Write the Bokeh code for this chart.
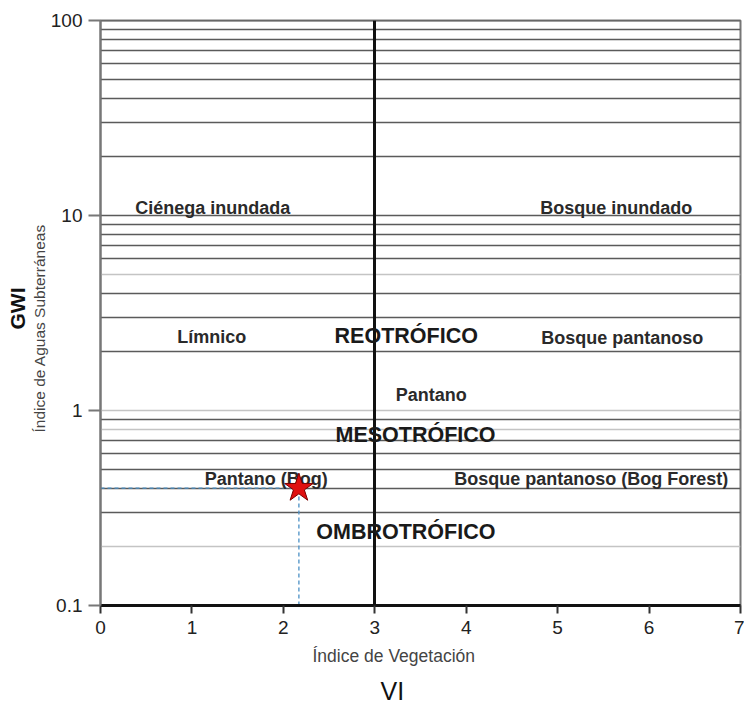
from bokeh.plotting import figure
from bokeh.models import FixedTicker, BasicTickFormatter, Title, Range1d
from bokeh.core.properties import value
from bokeh.embed import file_html
from bokeh.resources import INLINE

# gridline levels (GWI)
dark_levels = [0.3, 0.4, 0.5, 0.6, 0.7, 0.9, 2, 3, 4, 6, 7, 8, 9, 10,
               20, 30, 40, 50, 60, 70, 80, 90, 100]
light_levels = [0.2, 0.8, 1, 5]

# division between regimes (VI)
vi_split = [3]

# sample point
point_vi = [2.17]
point_gwi = [0.4]

# region labels
region_text = ["Ciénega inundada", "Bosque inundado", "Límnico", "Bosque pantanoso",
               "Pantano", "Pantano (Bog)", "Bosque pantanoso (Bog Forest)"]
region_x = [0.38, 4.81, 0.84, 4.82, 3.23, 1.14, 3.87]
region_y = [10.9, 10.9, 2.38, 2.36, 1.2, 0.447, 0.445]

class_text = ["REOTRÓFICO", "MESOTRÓFICO", "OMBROTRÓFICO"]
class_x = [2.56, 2.57, 2.36]
class_y = [2.42, 0.745, 0.237]

x_ticks = [0, 1, 2, 3, 4, 5, 6, 7]
y_ticks = [0.1, 1, 10, 100]

FONT = "Liberation Sans"

p = figure(width=744, height=706, output_backend="svg", toolbar_location=None,
           y_axis_type="log", x_range=Range1d(0, 7), y_range=Range1d(0.1, 100),
           min_border_left=100, min_border_right=4, min_border_top=20, min_border_bottom=100)

p.xgrid.visible = False
p.ygrid.visible = False
p.outline_line_color = "#777777"
p.outline_line_width = 2

p.hspan(y=light_levels, line_color="#c4c4c4", line_width=1.5)
p.hspan(y=dark_levels, line_color="#5a5a5a", line_width=1.6)
p.vspan(x=vi_split, line_color="#111111", line_width=3)

# dashed guide lines to the sample point
p.segment(x0=[0], y0=point_gwi, x1=point_vi, y1=point_gwi,
          line_color="#4a8fc4", line_width=1.3, line_dash="4 3")
p.segment(x0=point_vi, y0=[0.1], x1=point_vi, y1=point_gwi,
          line_color="#4a8fc4", line_width=1.3, line_dash="4 3")

p.text(x=region_x, y=region_y, text=region_text, text_font=value(FONT),
       text_font_size="18px", text_font_style="bold", text_color="#2a2a2a",
       text_baseline="middle", text_align="left")
p.text(x=class_x, y=class_y, text=class_text, text_font=value(FONT),
       text_font_size="21.5px", text_font_style="bold", text_color="#1a1a1a",
       text_baseline="middle", text_align="left")

p.scatter(x=point_vi, y=point_gwi, marker="star", size=30,
          fill_color="#e01010", line_color="#7a0000", line_width=1)

# x axis
xa = p.xaxis[0]
xa.ticker = FixedTicker(ticks=x_ticks)
xa.axis_line_color = "#111111"
xa.axis_line_width = 3
xa.major_tick_line_color = "#333333"
xa.major_tick_line_width = 2
xa.major_tick_out = 8
xa.major_tick_in = 0
xa.minor_tick_line_color = None
xa.major_label_text_font = FONT
xa.major_label_text_font_size = "19px"
xa.major_label_text_color = "#222222"
xa.major_label_standoff = 7

# y axis
ya = p.yaxis[0]
ya.ticker = FixedTicker(ticks=y_ticks)
ya.formatter = BasicTickFormatter()
ya.axis_line_color = "#777777"
ya.axis_line_width = 2
ya.major_tick_line_color = "#777777"
ya.major_tick_line_width = 2
ya.major_tick_out = 12
ya.major_tick_in = 0
ya.minor_tick_line_color = None
ya.major_label_text_font = FONT
ya.major_label_text_font_size = "19px"
ya.major_label_text_color = "#222222"
ya.major_label_standoff = 6

p.add_layout(Title(text="Índice de Vegetación", align="left", offset=212,
                   text_font=FONT, text_font_size="17.5px", text_font_style="normal",
                   text_color="#444444", standoff=15), "below")
p.add_layout(Title(text="VI", align="left", offset=280, text_font=FONT,
                   text_font_size="25px", text_font_style="normal",
                   text_color="#111111", standoff=3), "below")
p.add_layout(Title(text="Índice de Aguas Subterráneas", align="left", offset=173,
                   text_font=FONT, text_font_size="15.5px", text_font_style="normal",
                   text_color="#444444", standoff=0), "left")
p.add_layout(Title(text="GWI", align="left", offset=276, text_font=FONT,
                   text_font_size="21px", text_font_style="bold",
                   text_color="#111111", standoff=0), "left")

open("out.html", "w").write(file_html(p, INLINE))
